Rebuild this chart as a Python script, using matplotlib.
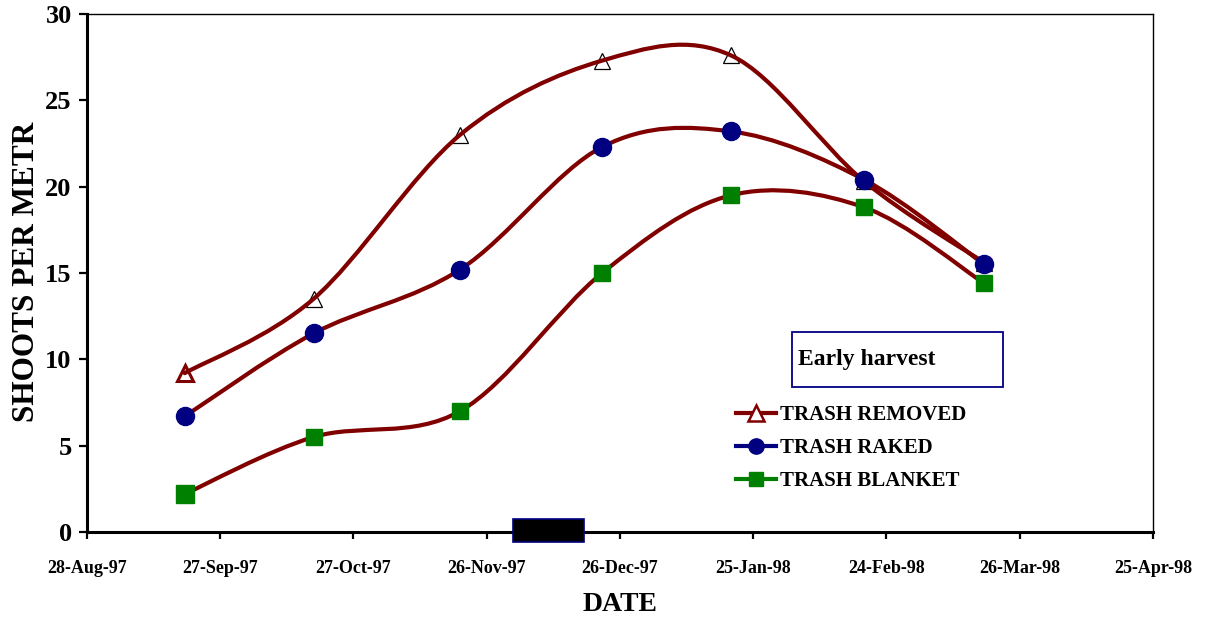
import datetime as dt

import matplotlib.pyplot as plt
import matplotlib.dates as mdates
from matplotlib.path import Path
from matplotlib.patches import PathPatch, Rectangle
from matplotlib.lines import Line2D

plt.rcParams['font.family'] = ['Liberation Serif', 'DejaVu Serif']
plt.rcParams['font.weight'] = 'bold'

# sampling dates and shoot counts per metre
dates = [dt.date(1997, 9, 19), dt.date(1997, 10, 18), dt.date(1997, 11, 20),
         dt.date(1997, 12, 22), dt.date(1998, 1, 20), dt.date(1998, 2, 19),
         dt.date(1998, 3, 18)]
trash_removed = [9.2, 13.5, 23.0, 27.3, 27.6, 20.3, 15.6]
trash_raked = [6.7, 11.5, 15.2, 22.3, 23.2, 20.4, 15.5]
trash_blanket = [2.2, 5.5, 7.0, 15.0, 19.5, 18.8, 14.4]

series_names = ['TRASH REMOVED', 'TRASH RAKED', 'TRASH BLANKET']

# harvest period marked on the date axis
harvest_start = dt.date(1997, 12, 2)
harvest_end = dt.date(1997, 12, 18)

tick_start = dt.date(1997, 8, 28)
tick_step_days = 30
n_ticks = 9

line_col = '#800000'


def smooth_path(xs, ys):
    # Catmull-Rom style bezier through every point (like a spreadsheet "smoothed line")
    pts = list(zip(xs, ys))
    verts = [pts[0]]
    codes = [Path.MOVETO]
    n = len(pts)
    for i in range(n - 1):
        p0 = pts[i - 1] if i > 0 else pts[i]
        p1 = pts[i]
        p2 = pts[i + 1]
        p3 = pts[i + 2] if i + 2 < n else pts[i + 1]
        c1 = (p1[0] + (p2[0] - p0[0]) / 6, p1[1] + (p2[1] - p0[1]) / 6)
        c2 = (p2[0] - (p3[0] - p1[0]) / 6, p2[1] - (p3[1] - p1[1]) / 6)
        verts += [c1, c2, p2]
        codes += [Path.CURVE4] * 3
    return Path(verts, codes)


fig = plt.figure(figsize=(12.05, 6.21), dpi=100)
ax = fig.add_axes([0.0722, 0.1433, 0.8846, 0.8342])

xnum = mdates.date2num(dates)
for vals in (trash_removed, trash_raked, trash_blanket):
    ax.add_patch(PathPatch(smooth_path(xnum, vals), fill=False, edgecolor=line_col,
                           lw=3.0, capstyle='round', joinstyle='round', zorder=3))

# markers
ax.plot(dates[:1], trash_removed[:1], ls='none', marker='^', ms=11, mfc='white',
        mec=line_col, mew=2.2, zorder=2)
ax.plot(dates[1:], trash_removed[1:], ls='none', marker='^', ms=12, mfc='white',
        mec='black', mew=0.9, zorder=2)
ax.plot(dates, trash_raked, ls='none', marker='o', ms=13, mfc='#000080',
        mec='#000080', zorder=4)
ax.plot(dates[:1], trash_blanket[:1], ls='none', marker='s', ms=12.5, mfc='#008000',
        mec='#008000', zorder=4)
ax.plot(dates[1:], trash_blanket[1:], ls='none', marker='s', ms=11, mfc='#008000',
        mec='#008000', zorder=4)

# harvest bar on the axis
hs = mdates.date2num(harvest_start)
he = mdates.date2num(harvest_end)
ax.add_patch(Rectangle((hs, -0.6), he - hs, 1.35, facecolor='black',
                       edgecolor='#000080', lw=1.2, clip_on=False, zorder=5))

ticks = [tick_start + dt.timedelta(days=tick_step_days * k) for k in range(n_ticks)]
ax.set_xlim(ticks[0], ticks[-1])
ax.set_ylim(0, 30)
ax.set_xticks(ticks)
ax.xaxis.set_major_formatter(mdates.DateFormatter('%d-%b-%y'))
ax.set_yticks(range(0, 31, 5))

ax.tick_params(axis='x', direction='out', length=5, width=1.6, labelsize=13, pad=15)
ax.tick_params(axis='y', direction='out', length=6, width=1.6, labelsize=19, pad=5)

for s in ('left', 'bottom'):
    ax.spines[s].set_linewidth(2.2)
for s in ('top', 'right'):
    ax.spines[s].set_linewidth(1.0)

ax.set_xlabel('DATE', fontsize=20, fontweight='bold', va='center')
ax.xaxis.set_label_coords(0.5, -0.139)
ax.set_ylabel('SHOOTS PER METR', fontsize=22.5, fontweight='bold', va='center')
ax.yaxis.set_label_coords(-0.0563, 0.502)

# title box
ax.text(0.667, 0.3325, 'Early harvest', transform=ax.transAxes, fontsize=17,
        fontweight='bold', ha='left', va='center')
ax.add_patch(Rectangle((0.6613, 0.2795), 0.198, 0.1062, transform=ax.transAxes,
                       fill=False, ec='#000080', lw=1.3))

handles = [
    Line2D([], [], color=line_col, lw=3, marker='^', ms=11, mfc='white',
           mec=line_col, mew=1.8),
    Line2D([], [], color='#000080', lw=3, marker='o', ms=11, mfc='#000080',
           mec='#000080'),
    Line2D([], [], color='#008000', lw=3, marker='s', ms=10, mfc='#008000',
           mec='#008000'),
]
ax.legend(handles, series_names, loc='upper left', frameon=False, fontsize=15,
          bbox_to_anchor=(736 / 1205, 1 - 405 / 621), bbox_transform=fig.transFigure,
          borderpad=0, borderaxespad=0, handlelength=1.9, handletextpad=0.2,
          labelspacing=0.62)

fig.savefig('out.png', dpi=100)
